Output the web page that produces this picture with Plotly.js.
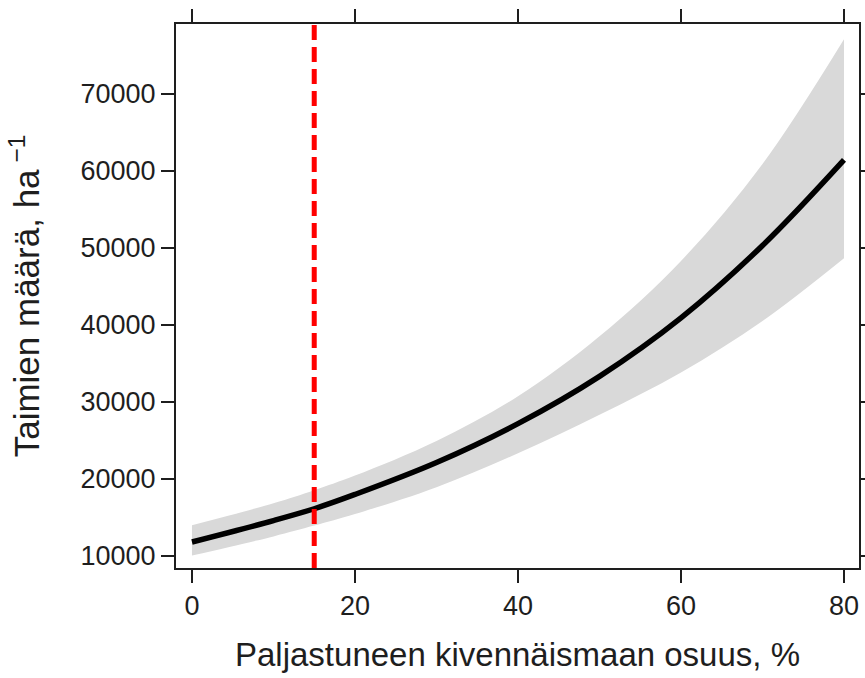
<!DOCTYPE html>
<html>
<head>
<meta charset="utf-8">
<script src="https://cdn.plot.ly/plotly-3.0.1.min.js"></script>
<style>
  html, body { margin: 0; padding: 0; background: #fff; }
  #chart { width: 865px; height: 678px; }
</style>
</head>
<body>
<div id="chart"></div>
<script>
// Exposed mineral soil share (%) and the predicted seedling density
const share = [0, 10, 15, 20, 30, 40, 50, 60, 70, 80];
const fitted = [11770, 14550, 16090, 17950, 22100, 27150, 33300, 40900, 50300, 61430];
const upper  = [13950, 16800, 18500, 20400, 24900, 30700, 38500, 48300, 60900, 77110];
const lower  = [10000, 12500, 13900, 15400, 18900, 23300, 28300, 33800, 40500, 48660];

// Reference share marked with the dashed vertical line
const markerShare = 15;

const xTicks = [0, 20, 40, 60, 80];
const yTicks = [10000, 20000, 30000, 40000, 50000, 60000, 70000];

const font = "Liberation Sans, Arial, Helvetica, sans-serif";
const ink = "#1e1e1e";

const traces = [
  { x: share, y: lower, type: "scatter", mode: "lines",
    line: { width: 0, shape: "spline" }, hoverinfo: "skip", showlegend: false },
  { x: share, y: upper, type: "scatter", mode: "lines",
    line: { width: 0, shape: "spline" }, fill: "tonexty",
    fillcolor: "rgb(217,217,217)", hoverinfo: "skip", showlegend: false },
  { x: share, y: fitted, type: "scatter", mode: "lines",
    line: { color: "#000", width: 5.5, shape: "spline" }, showlegend: false }
];

const axisCommon = {
  showgrid: false, zeroline: false,
  showline: true, linecolor: ink, linewidth: 2, mirror: "allticks",
  ticks: "outside", ticklen: 13, tickwidth: 2, tickcolor: ink,
  tickfont: { family: font, size: 27, color: ink }
};

const layout = {
  width: 865, height: 678,
  margin: { l: 176, r: 6, t: 24, b: 110 },
  paper_bgcolor: "#fff", plot_bgcolor: "#fff",
  xaxis: Object.assign({}, axisCommon, {
    range: [-1.96, 81.84], tickmode: "array", tickvals: xTicks,
    ticktext: xTicks.map(String),
    title: { text: "Paljastuneen kivennäismaan osuus, %",
             font: { family: font, size: 33, color: ink }, standoff: 22 }
  }),
  yaxis: Object.assign({}, axisCommon, {
    range: [8390, 79090], tickmode: "array", tickvals: yTicks,
    ticktext: yTicks.map(String),
    title: { text: "Taimien määrä, ha<sup> −1</sup>",
             font: { family: font, size: 35, color: ink }, standoff: 30 }
  }),
  shapes: [{
    type: "line", xref: "x", yref: "paper",
    x0: markerShare, x1: markerShare, y0: 0, y1: 1,
    line: { color: "#ff0000", width: 5, dash: "15px,7px" }, layer: "above"
  }]
};

Plotly.newPlot("chart", traces, layout, { displayModeBar: false, staticPlot: true });
</script>
</body>
</html>
